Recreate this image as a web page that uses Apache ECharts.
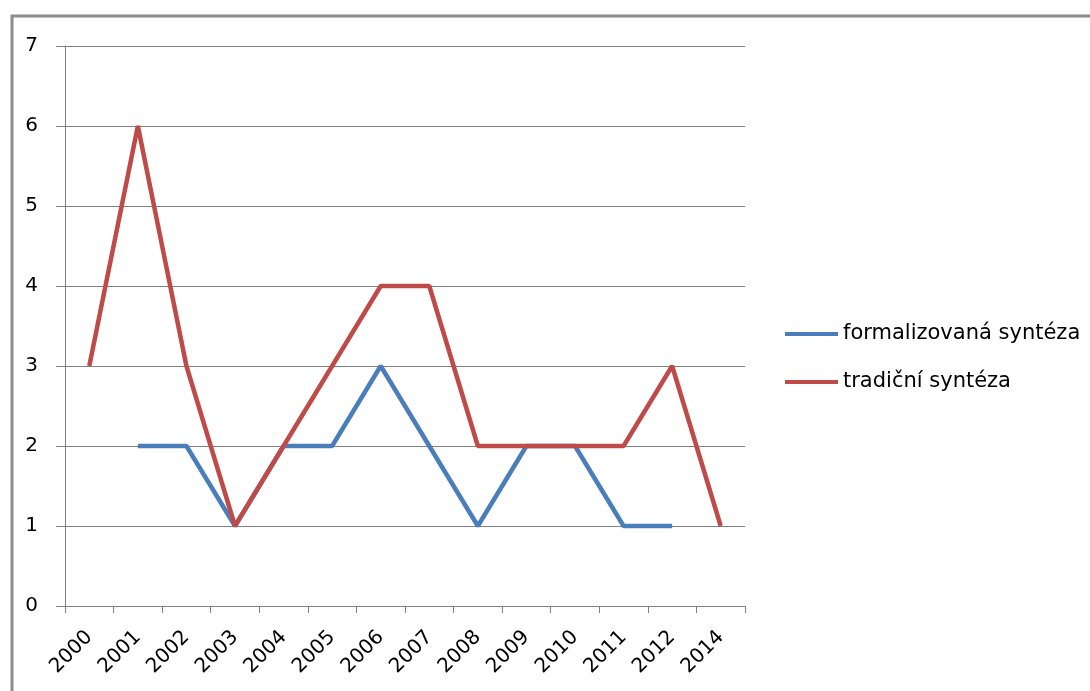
<!DOCTYPE html>
<html>
<head>
<meta charset="utf-8">
<script src="https://cdn.jsdelivr.net/npm/echarts@6/dist/echarts.min.js"></script>
<style>
html,body{margin:0;padding:0;background:#fff;}
#chart{width:1090px;height:691px;}
</style>
</head>
<body>
<div id="chart"></div>
<script>
var categories = ['2000','2001','2002','2003','2004','2005','2006','2007','2008','2009','2010','2011','2012','2014'];
var formalizovana = [null, 2, 2, 1, 2, 2, 3, 2, 1, 2, 2, 1, 1, null];
var tradicni = [3, 6, 3, 1, 2, 3, 4, 4, 2, 2, 2, 2, 3, 1];
var yTicks = [0, 1, 2, 3, 4, 5, 6, 7];

var chart = echarts.init(document.getElementById('chart'), null, {renderer: 'canvas'});
var gray = '#808080';
var font = 'DejaVu Sans';
chart.setOption({
  animation: false,
  backgroundColor: '#fff',
  graphic: [{
    type: 'rect',
    shape: {x: 12, y: 16, width: 1200, height: 800},
    style: {fill: 'none', stroke: '#8c8c8c', lineWidth: 3},
    silent: true
  }],
  grid: {left: 65, right: 345, top: 46, bottom: 85, containLabel: false},
  legend: {
    orient: 'vertical',
    left: 785,
    top: 322,
    padding: 0,
    itemWidth: 53,
    itemHeight: 4,
    itemGap: 24,
    icon: 'rect',
    textStyle: {fontFamily: font, fontSize: 21, color: '#000', lineHeight: 24},
    data: ['formalizovaná syntéza', 'tradiční syntéza']
  },
  xAxis: {
    type: 'category',
    data: categories,
    boundaryGap: true,
    axisLine: {lineStyle: {color: gray, width: 1}},
    axisTick: {show: true, length: 7, interval: 0, lineStyle: {color: gray}},
    axisLabel: {interval: 0, rotate: 45, margin: 28, fontFamily: font, fontSize: 20, color: '#000'},
    splitLine: {show: false}
  },
  yAxis: {
    type: 'value',
    min: yTicks[0],
    max: yTicks[yTicks.length - 1],
    interval: 1,
    axisLine: {show: true, lineStyle: {color: gray, width: 1}},
    axisTick: {show: true, length: 9, lineStyle: {color: gray}},
    axisLabel: {margin: 27, fontFamily: font, fontSize: 20, color: '#000'},
    splitLine: {show: true, lineStyle: {color: gray, width: 1}}
  },
  series: [{
    name: 'formalizovaná syntéza',
    type: 'line',
    data: formalizovana,
    showSymbol: false,
    symbol: 'none',
    connectNulls: false,
    itemStyle: {color: '#4a7ebb'},
    lineStyle: {color: '#4a7ebb', width: 4.5}
  }, {
    name: 'tradiční syntéza',
    type: 'line',
    data: tradicni,
    showSymbol: false,
    symbol: 'none',
    itemStyle: {color: '#be4b48'},
    lineStyle: {color: '#be4b48', width: 4.5}
  }]
});
</script>
</body>
</html>
